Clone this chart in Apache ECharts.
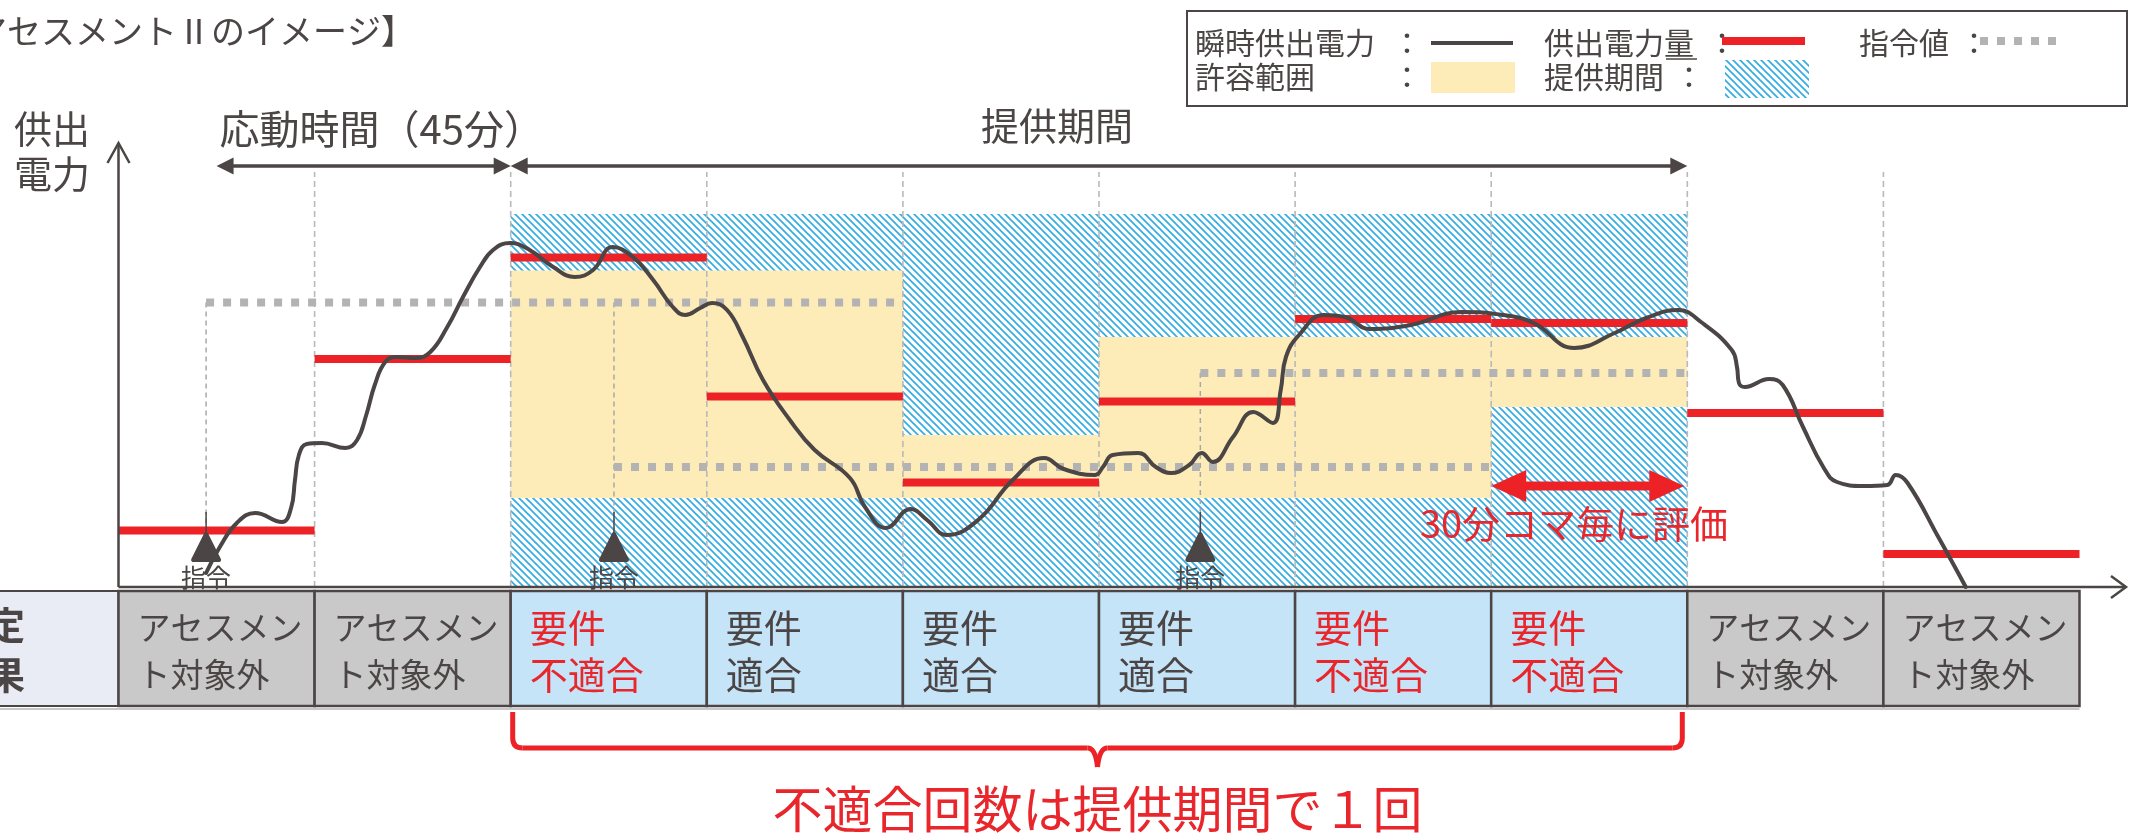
<!DOCTYPE html>
<html lang="ja">
<head>
<meta charset="utf-8">
<title>アセスメントⅡのイメージ</title>
<script src="https://cdn.jsdelivr.net/npm/echarts@6.0.0/dist/echarts.min.js"></script>
<style>
html,body{margin:0;padding:0;background:#ffffff;}
#chart{width:2130px;height:833px;}
</style>
</head>
<body>
<div id="chart"></div>
<script>
// ---- data: time in minutes, power in relative units ----
const slotLength = 30;
const slotCount = 10;
const supplyAmount = [11.3, 45.6, 65.9, 38.1, 20.9, 37.1, 53.6, 52.8, 34.8, 6.6];
const toleranceLow  = [null, null, 17.8, 17.8, 17.8, 17.8, 17.8, 36.0, null, null];
const toleranceHigh = [null, null, 63.3, 63.3, 30.4, 50.0, 50.0, 50.0, null, null];
const commandTime  = [13.4, 75.8, 165.5];
const commandValue = [56.9, 24.0, 42.8];
const commandUntil = [120, 210, 240];
const responseSpan  = [15, 60];
const provisionSpan = [60, 240];
const provisionCeiling = 74.6;
const judgementText = ['アセスメン\nト対象外', 'アセスメン\nト対象外', '要件\n不適合', '要件\n適合', '要件\n適合',
                       '要件\n適合', '要件\n不適合', '要件\n不適合', 'アセスメン\nト対象外', 'アセスメン\nト対象外'];
const judgementKind = ['out', 'out', 'ng', 'ok', 'ok', 'ok', 'ng', 'ng', 'out', 'out'];
const instantPower = [
  [13.4,2.8],[15.5,8.0],[18.1,12.8],[20.9,14.8],[25.0,13.0],[26.4,15.8],[27.0,21.4],[27.6,26.4],[28.8,28.6],
  [31.1,28.8],[34.7,27.8],[36.5,29.4],[37.9,34.4],[39.2,40.4],[40.8,45.0],[42.6,46.0],[45.4,45.8],[47.7,47.0],
  [50.3,52.0],[52.7,58.0],[55.3,64.0],[57.3,67.4],[59.9,68.8],[62.9,67.4],[66.5,64.0],[69.8,62.0],[72.6,63.4],
  [75.6,68.0],[78.7,66.0],[81.8,61.4],[84.8,56.0],[86.7,54.4],[89.0,55.8],[90.8,56.8],[93.1,55.4],[95.5,50.0],
  [98.6,41.4],[102.7,33.4],[106.5,27.4],[111.9,21.8],[114.2,16.0],[117.4,11.8],[121.2,15.6],[123.7,13.4],
  [126.7,10.4],[131.5,13.4],[136.8,21.4],[141.6,25.8],[144.6,23.6],[149.4,22.4],[150.6,24.0],[152.1,26.4],
  [156.0,26.8],[158.7,24.0],[161.0,22.8],[163.8,24.4],[165.7,26.8],[167.4,25.0],[170.5,30.0],[173.6,35.0],
  [176.6,32.8],[177.8,39.4],[178.6,46.0],[180.6,50.4],[184.4,54.4],[187.6,54.0],[191.4,51.6],[197.7,52.4],
  [205.5,55.0],[211.8,54.4],[216.5,52.8],[222.7,47.8],[228.9,50.8],[233.7,53.8],[238.6,55.4],[242.1,53.0],
  [246.8,47.4],[247.6,44.0],[247.9,40.8],[248.8,40.0],[252.5,41.6],[254.6,40.4],[257.7,32.0],[260.8,24.0],
  [262.9,21.0],[267.0,20.2],[270.6,20.4],[271.9,22.4],[273.7,20.8],[278.4,10.0],[282.6,0]
];

// ---- styling ----
const FONT = '"Noto Sans CJK JP", "Noto Sans", sans-serif';
const INK = '#4b4545';
const RED = '#ec2227';
const RED_TEXT = '#e8262b';
const DOT_GREY = '#b3b3b3';
const YELLOW = '#feecb8';
const HATCH_BLUE = '#34ace2';

function makeHatch() {
  const s = 7;
  const c = document.createElement('canvas');
  c.width = s; c.height = s;
  const g = c.getContext('2d');
  g.fillStyle = '#ffffff';
  g.fillRect(0, 0, s, s);
  g.strokeStyle = HATCH_BLUE;
  g.lineWidth = 1.7;
  for (const o of [-s, 0, s]) {
    g.beginPath();
    g.moveTo(-1, -1 + o);
    g.lineTo(s + 1, s + 1 + o);
    g.stroke();
  }
  return c;
}
const hatch = makeHatch();

const chart = echarts.init(document.getElementById('chart'), null, { renderer: 'canvas' });

const series = [];

// provision period background
series.push({
  type: 'custom', name: '提供期間', z: 1, silent: true,
  data: [[provisionSpan[0], provisionSpan[1], 0, provisionCeiling]],
  renderItem: (p, api) => {
    const a = api.coord([api.value(0), api.value(3)]);
    const b = api.coord([api.value(1), api.value(2)]);
    return { type: 'rect', shape: { x: a[0], y: a[1], width: b[0] - a[0], height: b[1] - a[1] },
             style: { fill: { image: hatch, repeat: 'repeat' } } };
  }
});

// tolerance band per slot
series.push({
  type: 'custom', name: '許容範囲', z: 2, silent: true,
  data: toleranceLow.map((lo, i) => lo == null ? null : [i * slotLength, (i + 1) * slotLength, lo, toleranceHigh[i]]).filter(Boolean),
  renderItem: (p, api) => {
    const a = api.coord([api.value(0), api.value(3)]);
    const b = api.coord([api.value(1), api.value(2)]);
    return { type: 'rect', shape: { x: a[0], y: a[1], width: b[0] - a[0], height: b[1] - a[1] },
             style: { fill: YELLOW } };
  }
});

// slot boundaries
series.push({
  type: 'custom', name: 'slots', z: 3, silent: true,
  data: Array.from({ length: slotCount - 1 }, (_, i) => [(i + 1) * slotLength, 83]),
  renderItem: (p, api) => {
    const a = api.coord([api.value(0), 0]);
    const b = api.coord([api.value(0), api.value(1)]);
    return { type: 'line', shape: { x1: a[0], y1: a[1], x2: b[0], y2: b[1] },
             style: { stroke: '#b9b9b9', lineWidth: 1.6, lineDash: [6, 4] } };
  }
});

// command levels (指令値)
commandTime.forEach((t, i) => {
  series.push({
    type: 'line', name: '指令値', z: 4, silent: true, showSymbol: false, symbol: 'none',
    data: [[t, commandValue[i]], [commandUntil[i], commandValue[i]]],
    lineStyle: { color: DOT_GREY, width: 8, type: [8, 9], cap: 'butt' }
  });
});

// command connectors
series.push({
  type: 'custom', name: 'connectors', z: 4, silent: true,
  data: commandTime.map((t, i) => [t, Math.max(commandValue[i], i > 0 ? commandValue[i - 1] : 0)]),
  renderItem: (p, api) => {
    const a = api.coord([api.value(0), api.value(1)]);
    const b = api.coord([api.value(0), 0]);
    return { type: 'line', shape: { x1: a[0], y1: a[1], x2: b[0], y2: b[1] - 27 },
             style: { stroke: '#a8a8a8', lineWidth: 1.5, lineDash: [5, 4] } };
  }
});

// supply amount per slot (供出電力量)
series.push({
  type: 'custom', name: '供出電力量', z: 5, silent: true,
  data: supplyAmount.map((v, i) => [i * slotLength, (i + 1) * slotLength, v]),
  renderItem: (p, api) => {
    const a = api.coord([api.value(0), api.value(2)]);
    const b = api.coord([api.value(1), api.value(2)]);
    return { type: 'line', shape: { x1: a[0], y1: a[1], x2: b[0], y2: b[1] },
             style: { stroke: RED, lineWidth: 8, lineCap: 'butt' } };
  }
});

// instantaneous power (瞬時供出電力)
series.push({
  type: 'line', name: '瞬時供出電力', z: 6, silent: true, smooth: 0.45,
  showSymbol: false, symbol: 'none', data: instantPower,
  lineStyle: { color: INK, width: 4, cap: 'round', join: 'round' }
});

// command markers (指令)
series.push({
  type: 'custom', name: '指令', z: 7, silent: true,
  data: commandTime.map(t => [t]),
  renderItem: (p, api) => {
    const b = api.coord([api.value(0), 0]);
    const x = b[0], yb = b[1] - 27;
    return { type: 'group', children: [
      { type: 'line', shape: { x1: x, y1: yb - 48, x2: x, y2: yb - 26 }, style: { stroke: INK, lineWidth: 1.5 } },
      { type: 'polygon', shape: { points: [[x, yb - 26], [x - 13, yb], [x + 13, yb]] },
        style: { fill: INK, stroke: INK, lineWidth: 4, lineJoin: 'round' } },
      { type: 'text', style: { text: '指令', x: x, y: b[1] - 10, font: `25px ${FONT}`, fill: INK,
        align: 'center', verticalAlign: 'middle', textAlign: 'center', textVerticalAlign: 'middle' } }
    ] };
  }
});

chart.setOption({
  animation: false,
  backgroundColor: '#ffffff',
  grid: { left: 118.5, right: 50.5, top: 87, bottom: 246 },
  xAxis: { type: 'value', min: 0, max: slotLength * slotCount, show: false },
  yAxis: { type: 'value', min: 0, max: 100, show: false },
  series: series
});

// ---- annotations, table and legend ----
const P = (t, v) => chart.convertToPixel({ gridIndex: 0 }, [t, v]);
const [ox, oy] = P(0, 0);
const slotX = i => P(i * slotLength, 0)[0];
const g = [];
const al = a => ({ align: a, textAlign: a });
function text(str, x, y, size, fill, extra) {
  g.push({ type: 'text', silent: true, z: 50,
    style: Object.assign({ text: str, x: x, y: y, fill: fill, font: `${size}px ${FONT}`,
      align: 'left', textAlign: 'left', verticalAlign: 'middle', textVerticalAlign: 'middle' }, extra || {}) });
}
function line(x1, y1, x2, y2, stroke, w, extra) {
  g.push({ type: 'line', silent: true, z: 40, shape: { x1, y1, x2, y2 },
    style: Object.assign({ stroke: stroke, lineWidth: w }, extra || {}) });
}
function poly(points, fill, z) {
  g.push({ type: 'polygon', silent: true, z: z || 40, shape: { points }, style: { fill } });
}
function polyline(points, stroke, w) {
  g.push({ type: 'polyline', silent: true, z: 40, shape: { points }, style: { stroke, lineWidth: w, fill: null } });
}
function rect(x, y, w, h, style, z) {
  g.push({ type: 'rect', silent: true, z: z || 30, shape: { x, y, width: w, height: h }, style });
}

// title and axis label
text('【アセスメントⅡのイメージ】', 415, 31, 34, INK, al('right'));
text('供出\n電力', 14, 151, 38, INK, { lineHeight: 45 });

// axes with open arrowheads
line(ox, oy, ox, 143, INK, 2.5);
polyline([[ox - 11, 163], [ox, 143], [ox + 11, 163]], INK, 2.5);
line(ox, oy, 2126, oy, INK, 2.5);
polyline([[2111, oy - 11], [2126, oy], [2111, oy + 11]], INK, 2.5);

// span arrows
function spanArrow(x1, x2, y) {
  line(x1 + 14, y, x2 - 14, y, INK, 3.5);
  poly([[x1, y], [x1 + 17, y - 8.5], [x1 + 17, y + 8.5]], INK);
  poly([[x2, y], [x2 - 17, y - 8.5], [x2 - 17, y + 8.5]], INK);
}
const aY = 166;
spanArrow(P(responseSpan[0], 0)[0], P(responseSpan[1], 0)[0], aY);
spanArrow(P(provisionSpan[0], 0)[0], P(provisionSpan[1], 0)[0], aY);
text('応動時間（45分）', P(responseSpan[0], 0)[0] + 3, 129, 40, INK);
text('提供期間', 1057, 126, 38, INK, al('center'));

// 30-minute evaluation arrow
{
  const L = slotX(7), R = slotX(8) - 3, y = 486;
  poly([[L, y], [L + 35, y - 16], [L + 35, y - 4.5], [R - 35, y - 4.5], [R - 35, y - 16], [R, y],
        [R - 35, y + 16], [R - 35, y + 4.5], [L + 35, y + 4.5], [L + 35, y + 16]], RED, 45);
  text('30分コマ毎に評価', 1574, 524, 38, RED_TEXT, al('center'));
}

// judgement table
const tTop = 591, tBot = 706;
rect(-6, tTop, ox + 6, tBot - tTop, { fill: '#e9ecf4', stroke: INK, lineWidth: 2 });
text('判定\n結果', 25, 650, 38, INK, Object.assign({ lineHeight: 50, font: `bold 38px ${FONT}` }, al('right')));
for (let i = 0; i < slotCount; i++) {
  const x1 = slotX(i), x2 = slotX(i + 1);
  const kind = judgementKind[i];
  const fill = kind === 'out' ? '#c9c9ca' : '#c6e4f7';
  rect(x1, tTop, x2 - x1, tBot - tTop, { fill, stroke: INK, lineWidth: 2.5 });
  text(judgementText[i], x1 + 19, 651, kind === 'out' ? 33 : 38, kind === 'ng' ? RED_TEXT : INK, { lineHeight: 47 });
}
line(0, tBot + 3, slotX(slotCount), tBot + 3, '#c8c8c8', 2);

// brace under the provision period
{
  const L = slotX(2) + 2, R = slotX(8) - 5, C = (L + R) / 2, yT = 712, yH = 748, yP = 767;
  const st = { stroke: RED, lineWidth: 5, fill: null };
  const curve = (x1, y1, cx, cy, x2, y2) => g.push({ type: 'bezierCurve', silent: true, z: 40,
    shape: { x1, y1, x2, y2, cpx1: cx, cpy1: cy }, style: st });
  line(L, yT, L, yH - 10, RED, 5);
  curve(L, yH - 10, L, yH, L + 10, yH);
  line(L + 10, yH, C - 10, yH, RED, 5);
  curve(C - 10, yH, C - 2, yH, C, yP);
  curve(C, yP, C + 2, yH, C + 10, yH);
  line(C + 10, yH, R - 10, yH, RED, 5);
  curve(R - 10, yH, R, yH, R, yH - 10);
  line(R, yH - 10, R, yT, RED, 5);
  text('不適合回数は提供期間で１回', C, 809, 50, RED_TEXT, al('center'));
}

// legend
rect(1187, 11, 940, 95, { fill: '#ffffff', stroke: INK, lineWidth: 2 }, 60);
const lg = (str, x, y) => g.push({ type: 'text', silent: true, z: 61,
  style: { text: str, x, y, fill: INK, font: `30px ${FONT}`, align: 'left', textAlign: 'left',
           verticalAlign: 'middle', textVerticalAlign: 'middle' } });
lg('瞬時供出電力', 1195, 43); lg('：', 1392, 43);
g.push({ type: 'line', silent: true, z: 61, shape: { x1: 1431, y1: 43, x2: 1513, y2: 43 }, style: { stroke: INK, lineWidth: 4 } });
lg('供出電力量', 1544, 43); lg('：', 1707, 43);
g.push({ type: 'line', silent: true, z: 61, shape: { x1: 1666, y1: 59, x2: 1697, y2: 59 }, style: { stroke: INK, lineWidth: 1.5 } });
g.push({ type: 'line', silent: true, z: 61, shape: { x1: 1722, y1: 41, x2: 1805, y2: 41 }, style: { stroke: RED, lineWidth: 8 } });
lg('指令値', 1859, 43); lg('：', 1959, 43);
g.push({ type: 'line', silent: true, z: 61, shape: { x1: 1980, y1: 41, x2: 2059, y2: 41 },
  style: { stroke: DOT_GREY, lineWidth: 8, lineDash: [8, 9] } });
lg('許容範囲', 1195, 77); lg('：', 1392, 77);
g.push({ type: 'rect', silent: true, z: 61, shape: { x: 1431, y: 62, width: 84, height: 31 }, style: { fill: YELLOW } });
lg('提供期間', 1544, 77); lg('：', 1674, 77);
g.push({ type: 'rect', silent: true, z: 61, shape: { x: 1725, y: 60, width: 84, height: 38 },
  style: { fill: { image: hatch, repeat: 'repeat' } } });

chart.setOption({ graphic: { elements: g } });
</script>
</body>
</html>
